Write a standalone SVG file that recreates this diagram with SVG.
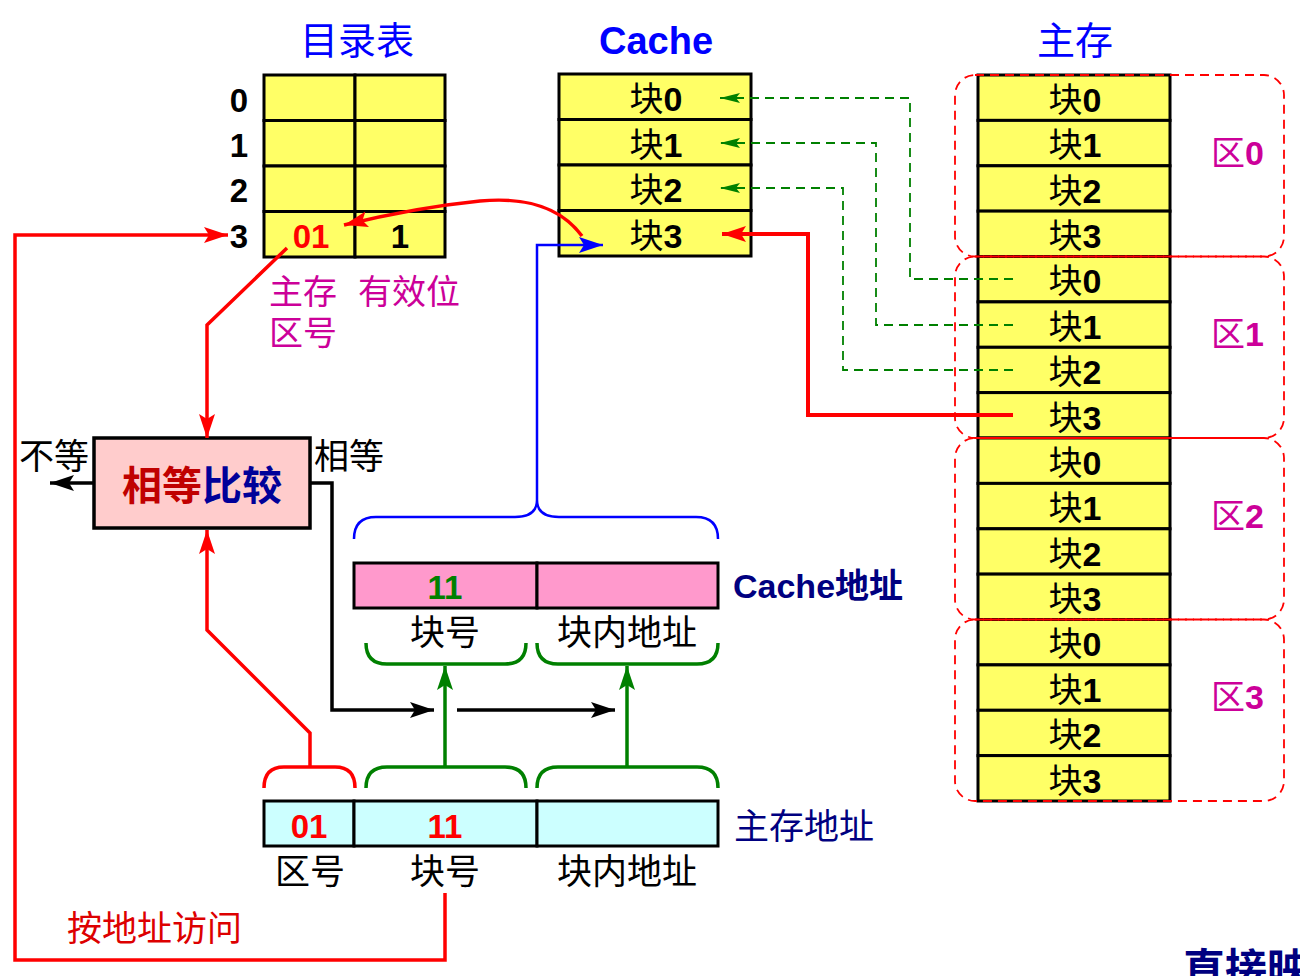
<svg xmlns="http://www.w3.org/2000/svg" width="1300" height="976" viewBox="0 0 1300 976">
<style>
.cjk{font-family:"Noto Sans CJK SC","Liberation Sans",sans-serif;}
.num{font-family:"Liberation Sans","Noto Sans CJK SC",sans-serif;font-weight:bold;}
.cell{fill:#FFFF66;stroke:#000;stroke-width:3;}
.blk{font-size:34px;text-anchor:middle;fill:#000;}
.lbl{font-family:"Noto Sans CJK SC",sans-serif;font-size:35px;fill:#000;text-anchor:middle;}
.mag{font-family:"Noto Sans CJK SC",sans-serif;font-size:34px;fill:#CC0099;}
.zone{fill:none;stroke:#FF0000;stroke-width:1.8;stroke-dasharray:9,6;}
.gd{fill:none;stroke:#008000;stroke-width:1.8;stroke-dasharray:9,6;}
.red{fill:none;stroke:#FF0000;stroke-width:4;}
.redt{fill:none;stroke:#FF0000;stroke-width:3.5;}
.blk3{fill:none;stroke:#000;stroke-width:3.5;}
.grn{fill:none;stroke:#008000;stroke-width:3.5;}
.blu{fill:none;stroke:#0000FF;stroke-width:2.5;}
</style>
<defs>
<marker id="ar" markerUnits="userSpaceOnUse" markerWidth="26" markerHeight="18" refX="24" refY="8" orient="auto"><path d="M0,0 L24,8 L0,16 L5,8 Z" fill="#FF0000"/></marker>
<marker id="ak" markerUnits="userSpaceOnUse" markerWidth="26" markerHeight="18" refX="24" refY="8" orient="auto"><path d="M0,0 L24,8 L0,16 L5,8 Z" fill="#000"/></marker>
<marker id="ag" markerUnits="userSpaceOnUse" markerWidth="26" markerHeight="18" refX="24" refY="8" orient="auto"><path d="M0,0 L24,8 L0,16 L5,8 Z" fill="#008000"/></marker>
<marker id="agd" markerUnits="userSpaceOnUse" markerWidth="22" markerHeight="12" refX="20" refY="5" orient="auto"><path d="M0,0 L20,5 L0,10 L4,5 Z" fill="#008000"/></marker>
<marker id="ab" markerUnits="userSpaceOnUse" markerWidth="26" markerHeight="18" refX="24" refY="8" orient="auto"><path d="M0,0 L24,8 L0,16 L5,8 Z" fill="#0000FF"/></marker>
</defs>

<!-- titles -->
<text x="357" y="54" class="cjk" font-size="38" fill="#0000FF" text-anchor="middle">目录表</text>
<text x="656" y="54" class="num" font-size="38" fill="#0000FF" text-anchor="middle">Cache</text>
<text x="1075" y="54" class="cjk" font-size="38" fill="#0000FF" text-anchor="middle">主存</text>

<!-- directory table -->
<g id="directory">
<rect x="264" y="75" width="91" height="45.5" class="cell"/><rect x="355" y="75" width="90" height="45.5" class="cell"/>
<rect x="264" y="120.5" width="91" height="45.5" class="cell"/><rect x="355" y="120.5" width="90" height="45.5" class="cell"/>
<rect x="264" y="166" width="91" height="45.5" class="cell"/><rect x="355" y="166" width="90" height="45.5" class="cell"/>
<rect x="264" y="211.5" width="91" height="45.5" class="cell"/><rect x="355" y="211.5" width="90" height="45.5" class="cell"/>
<text x="239" y="112" class="num" font-size="33" text-anchor="middle">0</text>
<text x="239" y="157" class="num" font-size="33" text-anchor="middle">1</text>
<text x="239" y="202" class="num" font-size="33" text-anchor="middle">2</text>
<text x="239" y="248" class="num" font-size="33" text-anchor="middle">3</text>
<text x="311" y="248" class="num" font-size="33" fill="#FF0000" text-anchor="middle">01</text>
<text x="400" y="248" class="num" font-size="33" text-anchor="middle">1</text>
<text x="269" y="304" class="mag">主存</text>
<text x="269" y="345" class="mag">区号</text>
<text x="358" y="304" class="mag" font-size="36">有效位</text>
</g>

<!-- cache -->
<g id="cache">
<rect x="559" y="74" width="192" height="45.5" class="cell"/>
<rect x="559" y="119.5" width="192" height="45.5" class="cell"/>
<rect x="559" y="165" width="192" height="45.5" class="cell"/>
<rect x="559" y="210.5" width="192" height="45.5" class="cell"/>
<text x="656" y="111" class="blk num"><tspan class="cjk" font-weight="normal">块</tspan>0</text>
<text x="656" y="157" class="blk num"><tspan class="cjk" font-weight="normal">块</tspan>1</text>
<text x="656" y="202" class="blk num"><tspan class="cjk" font-weight="normal">块</tspan>2</text>
<text x="656" y="248" class="blk num"><tspan class="cjk" font-weight="normal">块</tspan>3</text>
</g>

<!-- main memory -->
<g id="memory">
<rect x="978" y="75" width="192" height="45.4" class="cell"/>
<rect x="978" y="120.4" width="192" height="45.4" class="cell"/>
<rect x="978" y="165.8" width="192" height="45.4" class="cell"/>
<rect x="978" y="211.1" width="192" height="45.4" class="cell"/>
<rect x="978" y="256.5" width="192" height="45.4" class="cell"/>
<rect x="978" y="301.9" width="192" height="45.4" class="cell"/>
<rect x="978" y="347.3" width="192" height="45.4" class="cell"/>
<rect x="978" y="392.6" width="192" height="45.4" class="cell"/>
<rect x="978" y="438" width="192" height="45.4" class="cell"/>
<rect x="978" y="483.4" width="192" height="45.4" class="cell"/>
<rect x="978" y="528.8" width="192" height="45.4" class="cell"/>
<rect x="978" y="574.1" width="192" height="45.4" class="cell"/>
<rect x="978" y="619.5" width="192" height="45.4" class="cell"/>
<rect x="978" y="664.9" width="192" height="45.4" class="cell"/>
<rect x="978" y="710.3" width="192" height="45.4" class="cell"/>
<rect x="978" y="755.6" width="192" height="45.4" class="cell"/>
<text x="1075" y="112" class="blk num"><tspan class="cjk" font-weight="normal">块</tspan>0</text>
<text x="1075" y="157" class="blk num"><tspan class="cjk" font-weight="normal">块</tspan>1</text>
<text x="1075" y="203" class="blk num"><tspan class="cjk" font-weight="normal">块</tspan>2</text>
<text x="1075" y="248" class="blk num"><tspan class="cjk" font-weight="normal">块</tspan>3</text>
<text x="1075" y="293" class="blk num"><tspan class="cjk" font-weight="normal">块</tspan>0</text>
<text x="1075" y="339" class="blk num"><tspan class="cjk" font-weight="normal">块</tspan>1</text>
<text x="1075" y="384" class="blk num"><tspan class="cjk" font-weight="normal">块</tspan>2</text>
<text x="1075" y="430" class="blk num" fill="#0000FF"><tspan class="cjk" font-weight="normal">块</tspan>3</text>
<text x="1075" y="475" class="blk num"><tspan class="cjk" font-weight="normal">块</tspan>0</text>
<text x="1075" y="520" class="blk num"><tspan class="cjk" font-weight="normal">块</tspan>1</text>
<text x="1075" y="566" class="blk num"><tspan class="cjk" font-weight="normal">块</tspan>2</text>
<text x="1075" y="611" class="blk num"><tspan class="cjk" font-weight="normal">块</tspan>3</text>
<text x="1075" y="656" class="blk num"><tspan class="cjk" font-weight="normal">块</tspan>0</text>
<text x="1075" y="702" class="blk num"><tspan class="cjk" font-weight="normal">块</tspan>1</text>
<text x="1075" y="747" class="blk num"><tspan class="cjk" font-weight="normal">块</tspan>2</text>
<text x="1075" y="793" class="blk num"><tspan class="cjk" font-weight="normal">块</tspan>3</text>
</g>

<!-- zones -->
<g id="zones">
<rect x="955" y="75" width="329" height="181.5" rx="20" class="zone"/>
<rect x="955" y="256.5" width="329" height="181.5" rx="20" class="zone"/>
<rect x="955" y="438" width="329" height="181.5" rx="20" class="zone"/>
<rect x="955" y="619.5" width="329" height="181.5" rx="20" class="zone"/>
<text x="1211" y="165" class="mag"><tspan>区</tspan><tspan class="num">0</tspan></text>
<text x="1211" y="346" class="mag"><tspan>区</tspan><tspan class="num">1</tspan></text>
<text x="1211" y="528" class="mag"><tspan>区</tspan><tspan class="num">2</tspan></text>
<text x="1211" y="709" class="mag"><tspan>区</tspan><tspan class="num">3</tspan></text>
</g>

<!-- comparator -->
<g id="comparator">
<rect x="94" y="438" width="216" height="90" fill="#FFCCCC" stroke="#000" stroke-width="3.5"/>
<text x="202" y="500" class="cjk" font-size="40" font-weight="bold" text-anchor="middle"><tspan fill="#C00000">相等</tspan><tspan fill="#000099">比较</tspan></text>
<text x="19" y="469" class="cjk" font-size="35">不等</text>
<text x="314" y="469" class="cjk" font-size="35">相等</text>
</g>

<!-- cache address -->
<g id="cache-address">
<rect x="354" y="563" width="183" height="45" fill="#FF99CC" stroke="#000" stroke-width="3"/>
<rect x="537" y="563" width="181" height="45" fill="#FF99CC" stroke="#000" stroke-width="3"/>
<text x="445" y="599" class="num" font-size="33" fill="#008000" text-anchor="middle">11</text>
<text x="445" y="645" class="lbl">块号</text>
<text x="627" y="645" class="lbl">块内地址</text>
<text x="733" y="598" font-size="34" font-weight="bold" fill="#000080"><tspan class="num">Cache</tspan><tspan class="cjk">地址</tspan></text>
</g>

<!-- main memory address -->
<g id="mem-address">
<rect x="264" y="801" width="90" height="45" fill="#CCFFFF" stroke="#000" stroke-width="3"/>
<rect x="354" y="801" width="183" height="45" fill="#CCFFFF" stroke="#000" stroke-width="3"/>
<rect x="537" y="801" width="181" height="45" fill="#CCFFFF" stroke="#000" stroke-width="3"/>
<text x="309" y="838" class="num" font-size="33" fill="#FF0000" text-anchor="middle">01</text>
<text x="445" y="838" class="num" font-size="33" fill="#FF0000" text-anchor="middle">11</text>
<text x="310" y="884" class="lbl">区号</text>
<text x="445" y="884" class="lbl">块号</text>
<text x="627" y="884" class="lbl">块内地址</text>
<text x="734" y="839" class="cjk" font-size="35" fill="#000080">主存地址</text>
</g>

<text x="67" y="941" class="cjk" font-size="35" fill="#DD0000">按地址访问</text>
<text x="1183" y="984" class="cjk" font-size="42" font-weight="bold" fill="#000080">直接映射</text>

<!-- connectors -->
<g id="connectors">
<path d="M1013,279 H910 V98 H720" class="gd" marker-end="url(#agd)"/>
<path d="M1013,325 H876 V143 H720" class="gd" marker-end="url(#agd)"/>
<path d="M1013,370 H843 V188 H720" class="gd" marker-end="url(#agd)"/>
<path d="M1013,415 H808 V234 H722" class="red" marker-end="url(#ar)"/>
<path d="M582,236 C560,206 525,197 480,201 C430,206 385,215 344,225" class="redt" marker-end="url(#ar)"/>
<path d="M537,500 V245 H603" class="blu" marker-end="url(#ab)"/>
<path d="M354,539 Q354,517 376,517 H515 Q537,517 537,500 Q537,517 559,517 H696 Q718,517 718,539" class="blu"/>
<path d="M287,248 L207,325 V438" class="redt" marker-end="url(#ar)"/>
<path d="M445,893 V960 H15 V235 H228" class="redt" marker-end="url(#ar)"/>
<path d="M94,483 H50" class="blk3" marker-end="url(#ak)"/>
<path d="M310,483 H332 V710 H434" class="blk3" marker-end="url(#ak)"/>
<path d="M457,710 H615" class="blk3" marker-end="url(#ak)"/>
<path d="M264,788 Q264,767 284,767 H335 Q355,767 355,788" class="redt"/>
<path d="M310,767 V733 L207,630 V530" class="redt" marker-end="url(#ar)"/>
<path d="M366,788 Q366,767 387,767 H505 Q526,767 526,788" class="grn"/>
<path d="M537,788 Q537,767 558,767 H697 Q718,767 718,788" class="grn"/>
<path d="M366,643 Q366,664 387,664 H505 Q526,664 526,643" class="grn"/>
<path d="M537,643 Q537,664 558,664 H697 Q718,664 718,643" class="grn"/>
<path d="M445,767 V666" class="grn" marker-end="url(#ag)"/>
<path d="M627,767 V666" class="grn" marker-end="url(#ag)"/>
</g>
</svg>
